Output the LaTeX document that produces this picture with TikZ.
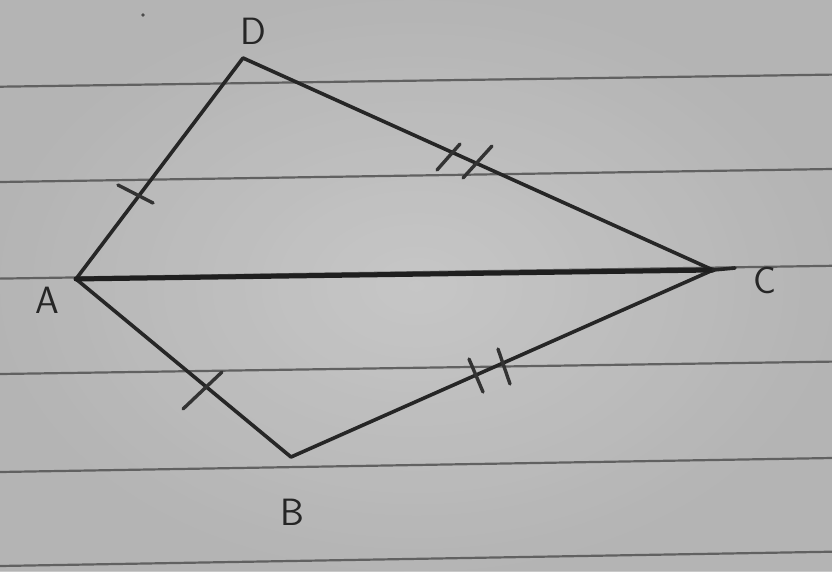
\documentclass[tikz,border=0pt]{standalone}
\begin{document}
\begin{tikzpicture}[x=1pt,y=-1pt,
  rule/.style={draw=black!62,line width=2.2pt},
  edge/.style={draw=black!85,line width=3.6pt,line cap=round,line join=round},
  diag/.style={draw=black!88,line width=5pt,line cap=round},
  tick/.style={draw=black!80,line width=3.4pt,line cap=round},
  lbl/.style={font=\fontsize{38}{38}\sffamily,text=black!85,inner sep=0pt}]
\useasboundingbox (0,0) rectangle (832,571);
\fill[black!27] (0,0) rectangle (832,571);
\shade[inner color=black!20,outer color=black!30,opacity=0.7] (0,0) rectangle (832,571);
% ruled lines
\foreach \a/\b in {86.7/74.6,182/169,278.6/265.8,374/361.6,472/458,566/551.7}
  \draw[rule] (0,\a) -- (832,\b);
% vertices
\coordinate (A) at (76,279);
\coordinate (D) at (243,58);
\coordinate (C) at (713,270);
\coordinate (B) at (291,457);
\draw[edge] (A) -- (D) -- (C);
\draw[edge] (A) -- (B) -- (C);
\draw[diag] (A) -- (C);
\draw[edge] (C) -- ++(22,-2);
% ticks
\draw[tick] (118,185) -- (153,203);
\draw[tick] (183,409) -- (222,372);
\draw[tick] (437,170) -- (460,144);
\draw[tick] (463,178) -- (492,146);
\draw[tick] (469,359) -- (483,392);
\draw[tick] (498,349) -- (510,384);
\fill[black!70] (143,15) circle (1.8);
% labels
\node[lbl] (lD) at (253,31) {D};
\node[lbl] (lA) at (47,300) {A};
\node[lbl] (lC) at (765,280) {C};
\node[lbl] (lB) at (292,512) {B};
\end{tikzpicture}
\end{document}
